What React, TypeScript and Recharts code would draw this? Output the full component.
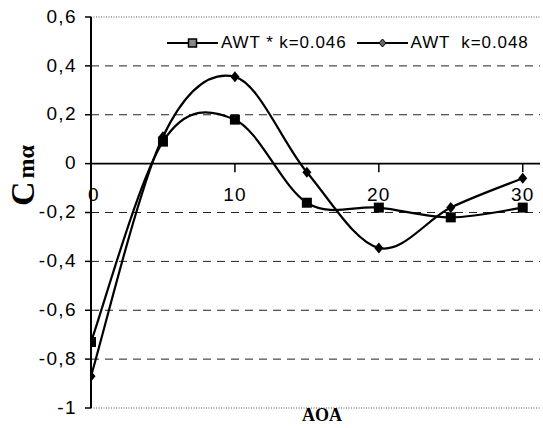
import React from 'react'
import {
  LineChart, Line, XAxis, YAxis, ReferenceLine,
} from 'recharts'

const aoa = [0, 5, 10, 15, 20, 25, 30]
const awt046 = [-0.73, 0.09, 0.18, -0.16, -0.18, -0.22, -0.18]
const awt048 = [-0.87, 0.11, 0.355, -0.035, -0.345, -0.18, -0.06]
const seriesNames = ['AWT * k=0.046', 'AWT  k=0.048']
const yTicks = [-1, -0.8, -0.6, -0.4, -0.2, 0, 0.2, 0.4, 0.6]
const dashedRows = [0.4, 0.2, -0.2, -0.4, -0.6, -0.8]
const xTickLabels = [0, 10, 20, 30]

const data = aoa.map((a, i) => ({ aoa: a, s046: awt046[i], s048: awt048[i] }))

const SANS = "Arial, 'Liberation Sans', sans-serif"
const SERIF = "'Times New Roman', 'Liberation Serif', serif"

// Excel-like smoothing (Catmull-Rom through each point)
function excelCurve(context: any) {
  let pts: number[][] = []
  return {
    areaStart() {},
    areaEnd() {},
    lineStart() { pts = [] },
    point(x: number, y: number) { pts.push([+x, +y]) },
    lineEnd() {
      const n = pts.length
      if (!n) return
      context.moveTo(pts[0][0], pts[0][1])
      for (let i = 0; i < n - 1; i++) {
        const p0 = pts[Math.max(i - 1, 0)]
        const p1 = pts[i]
        const p2 = pts[i + 1]
        const p3 = pts[Math.min(i + 2, n - 1)]
        context.bezierCurveTo(
          p1[0] + (p2[0] - p0[0]) / 6, p1[1] + (p2[1] - p0[1]) / 6,
          p2[0] - (p3[0] - p1[0]) / 6, p2[1] - (p3[1] - p1[1]) / 6,
          p2[0], p2[1],
        )
      }
    },
  }
}

const fmt = (v: number) => String(Math.round(v * 10) / 10).replace('.', ',')

function YTick({ x, y, payload }: any) {
  return (
    <text x={x} y={y} dy="0.3em" textAnchor="end" fill="#000"
      style={{ fontSize: 19, fontFamily: SANS, letterSpacing: 1.4 }}>
      {fmt(payload.value)}
    </text>
  )
}

function SquareDot({ cx, cy }: any) {
  if (cx == null || cy == null) return null
  return <rect x={cx - 5} y={cy - 5} width={10} height={10} fill="#000" />
}

function DiamondDot({ cx, cy }: any) {
  if (cx == null || cy == null) return null
  return <path d={`M${cx},${cy - 5.5}L${cx + 4.5},${cy}L${cx},${cy + 5.5}L${cx - 4.5},${cy}Z`} fill="#000" />
}

function LegendIcon({ kind }: { kind: 'square' | 'diamond' }) {
  return (
    <svg width={51} height={12} style={{ display: 'block' }}>
      <line x1={0} y1={6} x2={51} y2={6} stroke="#000" strokeWidth={2} />
      {kind === 'square'
        ? <rect x={21.5} y={2} width={8} height={8} fill="#888" stroke="#000" strokeWidth={1.5} />
        : <path d="M25.5,2L29,6L25.5,10L22,6Z" fill="#666" stroke="#000" strokeWidth={1} />}
    </svg>
  )
}

function YLabel() {
  return (
    <text transform="translate(34,206) rotate(-90)" fill="#000" style={{ fontFamily: SERIF, fontWeight: 700 }}>
      <tspan style={{ fontSize: 34 }}>C</tspan>
      <tspan dx={3} style={{ fontSize: 24 }}>mα</tspan>
    </text>
  )
}

export default function App() {
  return (
    <div style={{ position: 'absolute', left: 0, top: 0, width: 543, height: 428, background: '#fff' }}>
      <LineChart width={543} height={428} data={data} margin={{ top: 17, right: 3, bottom: 20, left: 0 }}>
        <XAxis dataKey="aoa" type="number" domain={[0, 31.2]} hide allowDataOverflow />
        <YAxis
          type="number"
          domain={[-1, 0.6]}
          ticks={yTicks}
          width={91}
          tick={<YTick />}
          tickSize={6}
          tickMargin={8}
          tickLine={{ stroke: '#000', strokeWidth: 1.5 }}
          axisLine={{ stroke: '#000', strokeWidth: 2 }}
        />
        {dashedRows.map((v) => (
          <ReferenceLine key={v} y={v} stroke="#222" strokeWidth={1} strokeDasharray="8 6" />
        ))}
        <ReferenceLine y={0.6} stroke="#555" strokeWidth={1} strokeDasharray="1 1.5" />
        <ReferenceLine y={-1} stroke="#555" strokeWidth={1} strokeDasharray="1 1.5" />
        <ReferenceLine y={0} stroke="#000" strokeWidth={1.6} />
        {xTickLabels.map((t) => (
          <ReferenceLine
            key={'xt' + t}
            segment={[{ x: t, y: 0 }, { x: t, y: -0.035 }]}
            stroke="#000"
            strokeWidth={1.5}
            label={{ value: String(t), position: 'bottom', offset: 15, dx: t === 0 ? 3 : 0, fill: '#000', style: { fontSize: 19, fontFamily: SANS, letterSpacing: 1.2 } }}
          />
        ))}
        <Line dataKey="s046" name={seriesNames[0]} type={excelCurve as any} stroke="#000" strokeWidth={2.2}
          dot={<SquareDot />} activeDot={false} isAnimationActive={false} />
        <Line dataKey="s048" name={seriesNames[1]} type={excelCurve as any} stroke="#000" strokeWidth={2.2}
          dot={<DiamondDot />} activeDot={false} isAnimationActive={false} />
        <YLabel />
      </LineChart>
      <div style={{
        position: 'absolute', left: 167, top: 33, display: 'flex', alignItems: 'center',
        fontFamily: SANS, fontSize: 17, letterSpacing: 0.9, color: '#000', whiteSpace: 'pre', lineHeight: '20px',
      }}>
        <LegendIcon kind="square" />
        <span style={{ marginLeft: 3 }}>{seriesNames[0]}</span>
        <span style={{ marginLeft: 10 }}><LegendIcon kind="diamond" /></span>
        <span style={{ marginLeft: 3 }}>{seriesNames[1]}</span>
      </div>
      <div style={{
        position: 'absolute', left: 272, width: 100, top: 405, textAlign: 'center',
        fontFamily: SERIF, fontWeight: 700, fontSize: 18, color: '#000',
      }}>
        AOA
      </div>
    </div>
  )
}
